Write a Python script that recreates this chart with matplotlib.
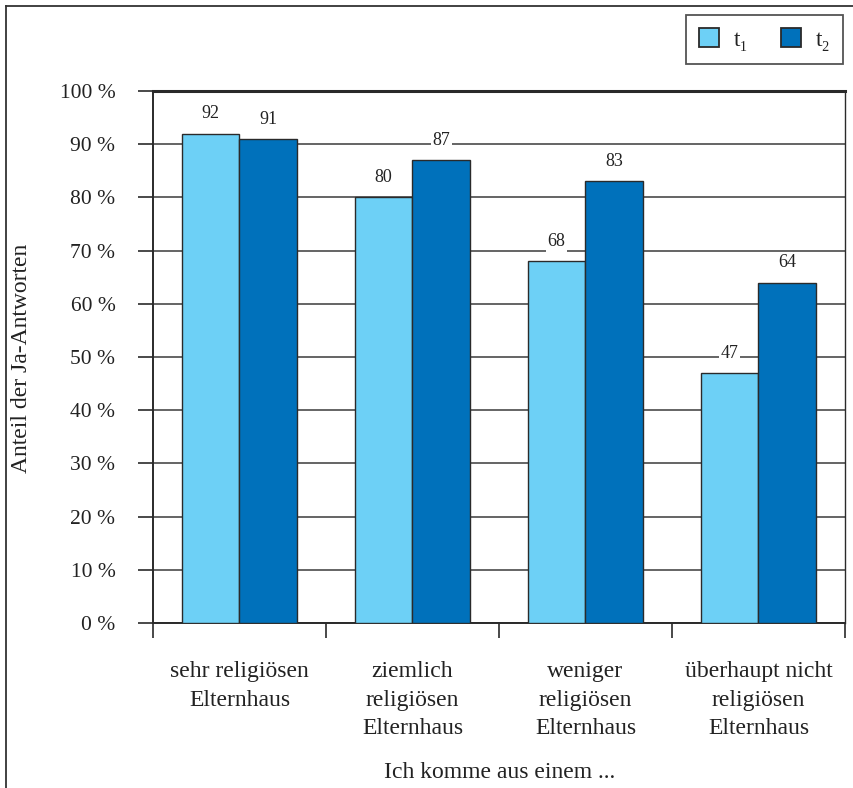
import matplotlib
matplotlib.use("Agg")
import matplotlib.pyplot as plt
from matplotlib.lines import Line2D
from matplotlib.patches import Patch
import numpy as np

categories = ["sehr religiösen\nElternhaus", "ziemlich\nreligiösen\nElternhaus",
              "weniger\nreligiösen\nElternhaus", "überhaupt nicht\nreligiösen\nElternhaus"]
t1 = [92, 80, 68, 47]
t2 = [91, 87, 83, 64]
yticks = [0, 10, 20, 30, 40, 50, 60, 70, 80, 90, 100]
ytick_labels = [f"{v} %" for v in yticks]
series_names = ["t\u2081", "t\u2082"]

plt.rcParams['font.family'] = ['Liberation Serif', 'DejaVu Serif']
c1 = "#6dd0f6"
c2 = "#0071bb"
edge = "#2a2a2a"
txt = "#222222"

fig = plt.figure(figsize=(8.54, 7.88), dpi=100)
W, H = 854, 788
ax = fig.add_axes([153 / W, 1 - 623 / H, (845 - 153) / W, (623 - 91) / H])

x = np.arange(len(categories))
bw = 0.335
b1 = ax.bar(x - bw / 2, t1, bw, color=c1, edgecolor=edge, linewidth=1.0, zorder=3)
b2 = ax.bar(x + bw / 2, t2, bw, color=c2, edgecolor=edge, linewidth=1.0, zorder=3)

for bars, vals in ((b1, t1), (b2, t2)):
    for r, v in zip(bars, vals):
        ax.annotate(str(v), (r.get_x() + r.get_width() / 2, v), xytext=(0, 8),
                    textcoords="offset points", ha="center", va="bottom",
                    fontsize=13, color=txt, zorder=4,
                    bbox=dict(boxstyle="square,pad=0.08", fc="white", ec="none"))

ax.set_xlim(-0.5, len(categories) - 0.5)
ax.set_ylim(0, 100)
ax.set_yticks(yticks)
ax.set_yticklabels(ytick_labels, fontsize=15.5, color=txt)
ax.yaxis.grid(True, color="#3a3a3a", linewidth=1.1, zorder=0)
ax.set_axisbelow(True)
ax.tick_params(axis="y", length=11, width=1.2, color=edge, pad=16)

ax.set_xticks(np.arange(-0.5, len(categories) + 0.5, 1.0))
ax.set_xticklabels([])
ax.tick_params(axis="x", length=11, width=1.2, color=edge, direction="out")
ax.tick_params(axis="y", direction="out")

for c, lab in zip(x, categories):
    ax.text(c, -7.2, lab, ha="center", va="top", fontsize=17, color=txt,
            linespacing=1.45, transform=ax.transData)

for s in ax.spines.values():
    s.set_color(edge)
ax.spines["left"].set_linewidth(1.4)
ax.spines["bottom"].set_linewidth(1.4)
ax.spines["top"].set_linewidth(2.2)
ax.spines["right"].set_linewidth(1.0)

fig.text(22 / W, 1 - 358 / H, "Anteil der Ja-Antworten", rotation=90, ha="center",
         va="center", fontsize=17, color=txt)
fig.text(500 / W, 1 - 773 / H, "Ich komme aus einem ...", ha="center", va="center",
         fontsize=17, color=txt)

handles = [Patch(facecolor=c1, edgecolor=edge, linewidth=1.3),
           Patch(facecolor=c2, edgecolor=edge, linewidth=1.3)]
leg = fig.legend(handles, series_names, loc="upper right",
                 bbox_to_anchor=(843 / W, 1 - 15 / H), ncol=2, fontsize=17,
                 frameon=True, fancybox=False, handlelength=0.85, handleheight=0.85,
                 columnspacing=1.4, handletextpad=0.6, borderpad=0.55,
                 borderaxespad=0)
leg.get_frame().set_edgecolor(edge)
leg.get_frame().set_linewidth(1.3)
for t in leg.get_texts():
    t.set_color(txt)

fig.add_artist(Line2D([6 / W, 6 / W], [0, 1 - 6 / H], color="#333333", linewidth=1.3))
fig.add_artist(Line2D([6 / W, 1], [1 - 6 / H, 1 - 6 / H], color="#333333", linewidth=1.3))

fig.savefig("out.png", dpi=100)
